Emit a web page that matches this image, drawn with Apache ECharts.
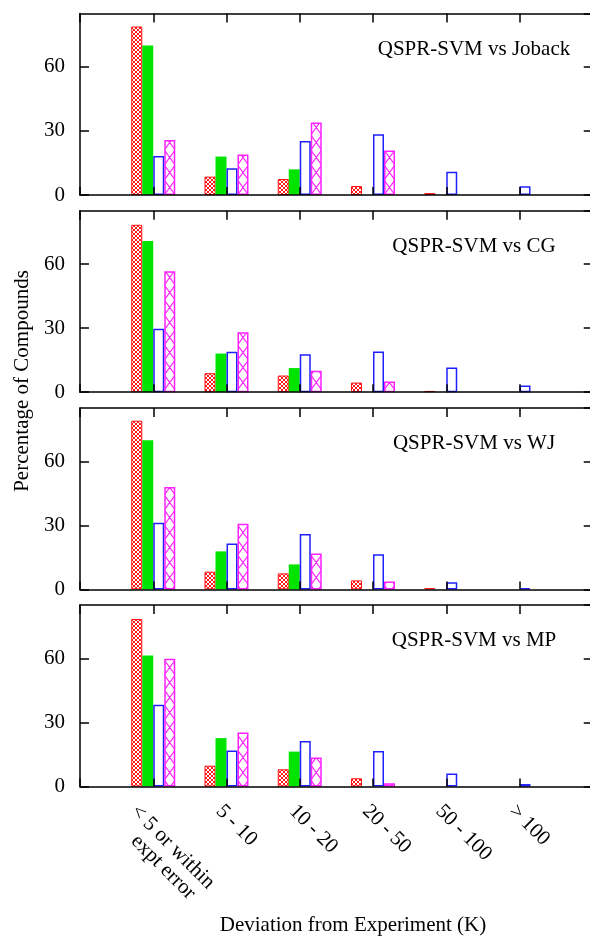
<!DOCTYPE html>
<html>
<head>
<meta charset="utf-8">
<script src="https://cdn.jsdelivr.net/npm/echarts@6/dist/echarts.min.js"></script>
<style>
html, body { margin: 0; padding: 0; background: #fff; }
#chart { width: 590px; height: 936px; }
</style>
</head>
<body>
<div id="chart"></div>
<script>
const categories = ['< 5 or within\nexpt error', '5 - 10', '10 - 20', '20 - 50', '50 - 100', '> 100']
const panelTitles = ['QSPR-SVM vs Joback', 'QSPR-SVM vs CG', 'QSPR-SVM vs WJ', 'QSPR-SVM vs MP']
const yMax = 85
const yStep = 30

// values: red hatched, green solid, blue open, magenta hatched
const jobackRed = [78.9, 8.6, 7.5, 4.2, 0.9, 0]
const jobackGreen = [70, 18, 12, 0, 0, 0]
const jobackBlue = [18.3, 12.5, 25.3, 28.4, 10.9, 4.1]
const jobackMagenta = [25.8, 19, 34, 20.8, 0, 0]

const cgRed = [78.4, 8.9, 7.8, 4.5, 0.6, 0]
const cgGreen = [70.8, 18.1, 11.3, 0, 0, 0]
const cgBlue = [29.7, 18.9, 17.8, 19.1, 11.6, 3.1]
const cgMagenta = [56.6, 28.1, 10, 5, 0, 0]

const wjRed = [79, 8.3, 7.5, 4.2, 0.6, 0]
const wjGreen = [69.9, 17.8, 11.7, 0, 0, 0]
const wjBlue = [31.2, 21.5, 26, 16.5, 3.3, 0.6]
const wjMagenta = [48, 30.8, 16.8, 3.7, 0, 0]

const mpRed = [78.5, 9.8, 8.1, 3.9, 0, 0]
const mpGreen = [61.4, 22.7, 16.4, 0, 0, 0]
const mpBlue = [38.3, 16.9, 21.4, 16.7, 6.1, 1.2]
const mpMagenta = [59.9, 25.3, 13.6, 1.6, 0, 0]

const panels = [
  [jobackRed, jobackGreen, jobackBlue, jobackMagenta],
  [cgRed, cgGreen, cgBlue, cgMagenta],
  [wjRed, wjGreen, wjBlue, wjMagenta],
  [mpRed, mpGreen, mpBlue, mpMagenta]
]

// layout
const LEFT = 80
const STEP = 73.25 // px per category
const TOP0 = 13.5
const PANEL_H = 181.5
const PANEL_DY = 197.2
const BAR_W = 11
const FONT = "'Liberation Serif', 'DejaVu Serif', serif"

// crosshatch patterns
const redHatch = (() => {
  const c = document.createElement('canvas')
  c.width = 4; c.height = 4
  const g = c.getContext('2d')
  g.strokeStyle = '#ff0000'
  g.lineWidth = 0.9
  g.beginPath()
  g.moveTo(0, 0); g.lineTo(4, 4)
  g.moveTo(4, 0); g.lineTo(0, 4)
  g.stroke()
  return c
})()

const magentaHatch = (() => {
  // 4 categories wide so the X cells line up with the magenta bars
  const w = STEP * 4
  const h = 15
  const c = document.createElement('canvas')
  c.width = w; c.height = h
  const g = c.getContext('2d')
  g.strokeStyle = '#ff20ff'
  g.lineWidth = 1.2
  g.beginPath()
  for (let j = 0; j < 4; j++) {
    const x0 = (LEFT + BAR_W + STEP * j) % w
    g.moveTo(x0, 0); g.lineTo(x0 + BAR_W, h)
    g.moveTo(x0 + BAR_W, 0); g.lineTo(x0, h)
  }
  g.stroke()
  return c
})()

const styles = [
  { name: 'red', itemStyle: { color: { image: redHatch, repeat: 'repeat' }, borderColor: '#ff1010', borderWidth: 1 } },
  { name: 'green', itemStyle: { color: '#00e400' } },
  { name: 'blue', itemStyle: { color: 'rgba(255,255,255,0)', borderColor: '#2020ff', borderWidth: 1.5 } },
  { name: 'magenta', itemStyle: { color: { image: magentaHatch, repeat: 'repeat' }, borderColor: '#ff20ff', borderWidth: 1.5 } }
]

const axisCats = ['', ...categories.map((c, i) => i === 0 ? {
  value: c,
  textStyle: {
    align: 'right',
    verticalAlign: 'top',
    width: 8,
    overflow: 'none',
    padding: [8.6, 0, 0, 0],
    rich: { a: { align: 'left', lineHeight: 21, fontSize: 21, fontFamily: FONT, color: '#000' } }
  }
} : c), '']

const black = { onZero: false, lineStyle: { color: '#000', width: 1.5 } }

const grid = []
const xAxis = []
const yAxis = []
const series = []
const graphic = []

panels.forEach((vals, i) => {
  const top = TOP0 + PANEL_DY * i
  grid.push({ left: LEFT, top: top, width: STEP * 7, height: PANEL_H, containLabel: false, outerBoundsMode: 'none' })
  xAxis.push({
    type: 'category', gridIndex: i, data: axisCats, boundaryGap: false, position: 'bottom', z: 10,
    axisLine: black,
    axisTick: { show: true, inside: true, length: 8, interval: 0, lineStyle: { color: '#000', width: 1.5 } },
    axisLabel: {
      show: i === panels.length - 1, interval: 0, rotate: -45, margin: 14,
      align: 'left', verticalAlign: 'top', lineHeight: 21,
      fontSize: 21, fontFamily: FONT, color: '#000',
      formatter: (v) => {
        if (v === categories[0]) {
          const parts = v.split('\n')
          return '{a|' + parts[0] + '}\n{a|    ' + parts[1] + '}'
        }
        return v
      }
    },
    splitLine: { show: false }
  })
  xAxis.push({
    type: 'category', gridIndex: i, data: axisCats, boundaryGap: false, position: 'top', z: 10,
    axisLine: black,
    axisTick: { show: true, inside: true, length: 9, interval: 0, lineStyle: { color: '#000', width: 1.5 } },
    axisLabel: { show: false },
    splitLine: { show: false }
  })
  yAxis.push({
    type: 'value', gridIndex: i, min: 0, max: yMax, interval: yStep, position: 'left', z: 10,
    axisLine: { show: true, onZero: false, lineStyle: { color: '#000', width: 1.5 } },
    axisTick: { show: true, inside: true, length: 9, lineStyle: { color: '#000', width: 1.5 } },
    axisLabel: { showMaxLabel: false, fontSize: 21, fontFamily: FONT, color: '#000', margin: 15 },
    splitLine: { show: false }
  })
  yAxis.push({
    type: 'value', gridIndex: i, min: 0, max: yMax, interval: yStep, position: 'right', z: 10,
    axisLine: { show: true, onZero: false, lineStyle: { color: '#000', width: 1.5 } },
    axisTick: { show: true, inside: true, length: 9, lineStyle: { color: '#000', width: 1.5 } },
    axisLabel: { show: false },
    splitLine: { show: false }
  })
  vals.forEach((arr, k) => {
    series.push({
      type: 'bar',
      name: styles[k].name,
      xAxisIndex: 2 * i,
      yAxisIndex: 2 * i,
      barWidth: BAR_W,
      barGap: '0%',
      itemStyle: styles[k].itemStyle,
      emphasis: { disabled: true },
      data: ['-', ...arr.map(v => v === 0 ? '-' : v), '-']
    })
  })
  graphic.push({
    type: 'text', x: 474, y: top + 35.5, z: 20,
    style: { text: panelTitles[i], font: '21px ' + FONT, fill: '#000', align: 'center', verticalAlign: 'middle' }
  })
})

graphic.push({
  type: 'text', x: 22, y: 381, rotation: Math.PI / 2, z: 20,
  style: { text: 'Percentage of Compounds', font: '21px ' + FONT, fill: '#000', align: 'center', verticalAlign: 'middle' }
})
graphic.push({
  type: 'text', x: 353, y: 925, z: 20,
  style: { text: 'Deviation from Experiment (K)', font: '21px ' + FONT, fill: '#000', align: 'center', verticalAlign: 'middle' }
})

const myChart = echarts.init(document.getElementById('chart'))
myChart.setOption({
  backgroundColor: '#fff',
  animation: false,
  grid: grid,
  xAxis: xAxis,
  yAxis: yAxis,
  series: series,
  graphic: graphic
})
</script>
</body>
</html>
